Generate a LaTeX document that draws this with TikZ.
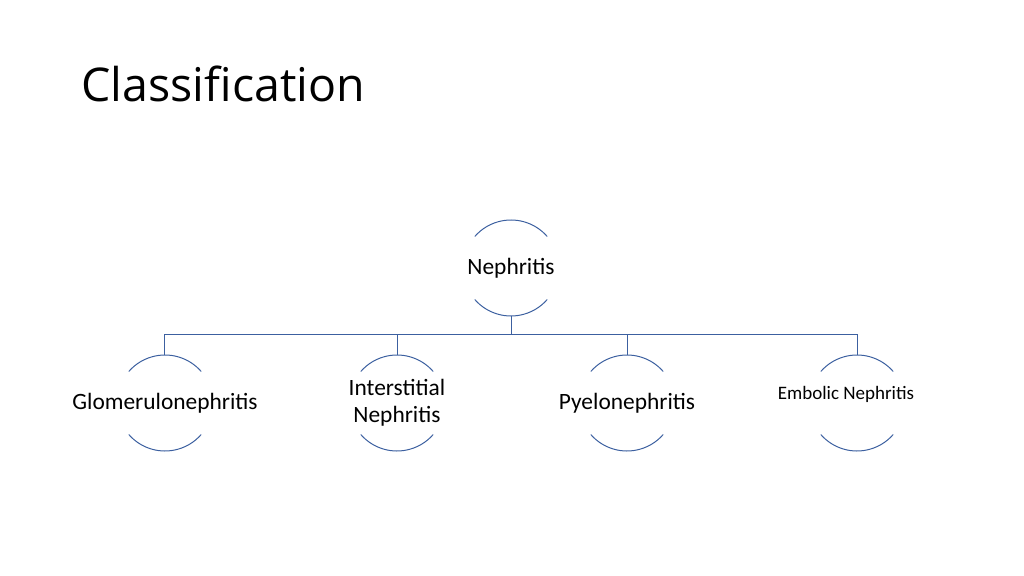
\documentclass[tikz,border=0pt]{standalone}
\usepackage{fontspec}
\setmainfont{Carlito}
\newfontfamily\titlefont{Open Sans}
\usepackage{tikz}
\usetikzlibrary{calc,backgrounds}
\usetikzlibrary{positioning}
\usepackage{xcolor}
\definecolor{ringblue}{RGB}{60,96,160}
\tikzstyle{tree}=[
  font=\fontsize{23.4}{27}\selectfont
]
\tikzstyle{ring}=[
  circle,inner sep=0pt,outer sep=0pt,minimum size=96pt
]
\tikzstyle{ringline}=[
  draw=ringblue,line width=1pt
]
\tikzstyle{branch}=[
  draw=ringblue,line width=1pt
]
\tikzstyle{heading}=[
  anchor=base west,font=\titlefont\fontsize{46.5}{52}\selectfont
]

\begin{document}
\begin{tikzpicture}[tree]
      \useasboundingbox (-511pt,-307pt) rectangle (513pt,268pt);
      \node (root) [ring, label={center:Nephritis}] {};
      \node (glom) at ($(root) + (-346pt, -135pt)$) [ring, label={center:Glomerulonephritis}] {};
      \node (inter) at ($(root) + (-114pt, -135pt)$) [ring, label={[align=center]center:Interstitial\\Nephritis}] {};
      \node (pyelo) at ($(root) + (116pt, -135pt)$) [ring, label={center:Pyelonephritis}] {};
      \node (embol) at ($(root) + (346pt, -135pt)$) [ring, label={[xshift=-11pt,yshift=9pt,font=\fontsize{19}{22}\selectfont]center:Embolic Nephritis}] {};
      \node (title) at ($(root) + (-433pt, 166pt)$) [heading] {Classification};
      \coordinate (bus) at ($(root.south) + (0pt, -18pt)$);
    \begin{scope}[on background layer]
      \foreach \n in {root,glom,inter,pyelo,embol} {
        \draw [ringline] (\n.41) arc [start angle=41, end angle=139, radius=48pt];
        \draw [ringline] (\n.221) arc [start angle=221, end angle=319, radius=48pt];
      }
      \draw [branch] (root.south) -- (bus);
      \foreach \c in {glom,inter,pyelo,embol}
        \draw [branch] (\c.north) |- (bus);
    \end{scope}
\end{tikzpicture}
\end{document}
